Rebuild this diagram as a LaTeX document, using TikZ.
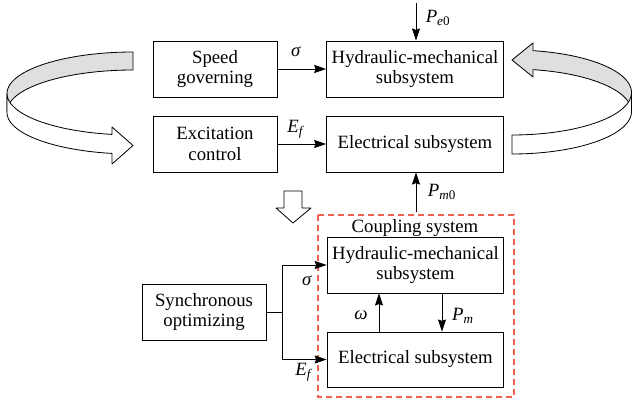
\documentclass[tikz,border=0pt]{standalone}
\usepackage{fontspec}
\setmainfont{Liberation Serif}
\usetikzlibrary{arrows.meta,calc}
\begin{document}
\begin{tikzpicture}[x=0.03cm,y=-0.03cm,
  line width=0.8pt,
  txt/.style={font=\fontsize{16}{17.5}\selectfont},
  box/.style={draw, txt, align=center, inner sep=0pt, minimum height=1.68cm},
  sbox/.style={box, minimum width=3.72cm},
  wbox/.style={box, minimum width=5.3cm},
  lbl/.style={txt, inner sep=0pt},
  arr/.style={-{Stealth[length=0.36cm,width=0.24cm,inset=0.04cm]}},
  ribbonback/.style={draw, fill=gray!25, line width=0.7pt, line join=round},
  ribbonfront/.style={draw, fill=white, line width=0.7pt, line join=round},
  coupling/.style={draw={rgb,255:red,238;green,98;blue,78}, dash pattern=on 0.18cm off 0.12cm, line width=1pt}
]
\useasboundingbox (0,0) rectangle (633,400);

% left ribbon arrow
\path[ribbonback] plot[domain=90:180, samples=40, variable=\t] ({133+126*cos(\t)},{93.5-41.5*sin(\t)})
  -- plot[domain=180:90, samples=40, variable=\t] ({133+126*cos(\t)},{111.5-41.5*sin(\t)}) -- cycle;
\path[ribbonfront] plot[domain=180:260.4, samples=40, variable=\t] ({133+126*cos(\t)},{93.5-41.5*sin(\t)})
  -- (112,127) -- (133,145.5) -- (112,164)
  -- plot[domain=260.4:180, samples=40, variable=\t] ({133+126*cos(\t)},{112.5-41.5*sin(\t)}) -- cycle;

% right ribbon arrow
\path[ribbonback] plot[domain=79.9:0, samples=40, variable=\t] ({512+119.5*cos(\t)},{92.5-42.5*sin(\t)})
  -- plot[domain=0:79.9, samples=40, variable=\t] ({512+119.5*cos(\t)},{111.5-42.5*sin(\t)})
  -- (533,77) -- (512,60) -- (533,43) -- cycle;
\path[ribbonfront] plot[domain=0:-90, samples=40, variable=\t] ({512+119.5*cos(\t)},{92.5-42.5*sin(\t)})
  -- plot[domain=-90:0, samples=40, variable=\t] ({512+119.5*cos(\t)},{111.5-42.5*sin(\t)}) -- cycle;

% down block arrow
\path[ribbonfront] (284,191) -- (302,191) -- (302,208) -- (311,208) -- (293,223) -- (276,208) -- (284,208) -- cycle;

% top part
\node[sbox] (speed) at (215,69) {Speed\\governing};
\node[sbox] (excit) at (215,144) {Excitation\\control};
\node[wbox] (hm1) at (415,69) {Hydraulic-mechanical\\subsystem};
\node[wbox] (el1) at (415,144) {Electrical subsystem};

\coordinate (pe0) at (416,3);
\coordinate (pm0) at (416,212);
\draw[arr] (speed.east) -- (hm1.west);
\draw[arr] (excit.east) -- (el1.west);
\draw[arr] (pe0) -- (pe0 |- hm1.north);
\draw[arr] (pm0) -- (pm0 |- el1.south);

\node[lbl] (sig1) at (296,52) {\textit{σ}};
\node[lbl] (ef1) at (296,129) {\textit{E}\textsubscript{\textit{f}}};
\node[lbl] (lpe0) at (438,18) {\textit{P}\textsubscript{\textit{e}0}};
\node[lbl] (lpm0) at (442,192) {\textit{P}\textsubscript{\textit{m}0}};

% coupling system
\draw[coupling] (318,215) rectangle (514,397);
\node[lbl] (coup) at (415,228) {Coupling system};
\node[wbox] (hm2) at (415.5,265) {Hydraulic-mechanical\\subsystem};
\node[wbox, minimum height=1.65cm] (el2) at (415.5,359.5) {Electrical subsystem};
\node[sbox] (sync) at (204,312) {Synchronous\\optimizing};

\coordinate (jn) at (282,312);
\draw (sync.east) -- (jn);
\draw[arr] (jn) |- (hm2.west);
\draw[arr] (jn) |- (el2.west);
\coordinate (wx) at (379,0);
\coordinate (px) at (442,0);
\draw[arr] (el2.north -| wx) -- (hm2.south -| wx);
\draw[arr] (hm2.south -| px) -- (el2.north -| px);

\node[lbl] (sig2) at (307,281) {\textit{σ}};
\node[lbl] (ef2) at (304,372) {\textit{E}\textsubscript{\textit{f}}};
\node[lbl] (om) at (361,315) {\textit{ω}};
\node[lbl] (lpm) at (463,316) {\textit{P}\textsubscript{\textit{m}}};
\end{tikzpicture}
\end{document}
